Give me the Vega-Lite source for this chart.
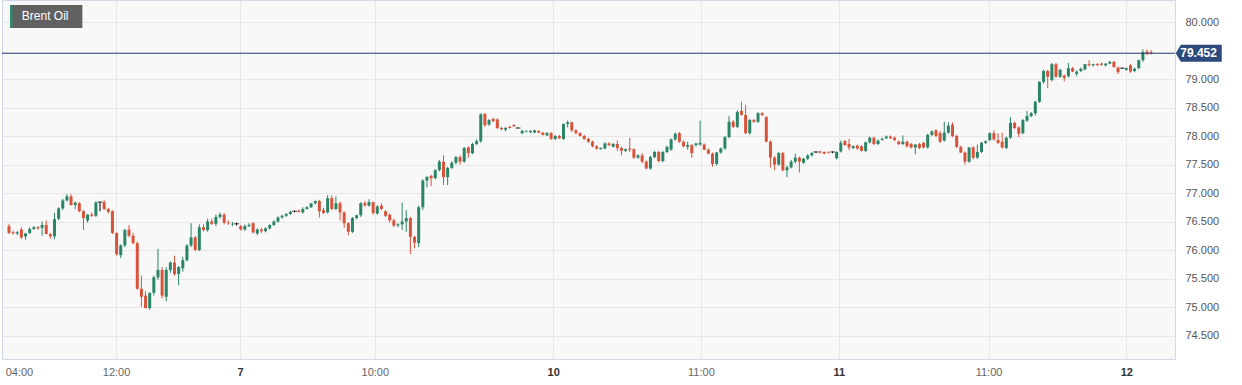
{
  "$schema": "https://vega.github.io/schema/vega-lite/v6.json",
  "width": 1173,
  "height": 359,
  "autosize": {"type": "none"},
  "padding": {"left": 2, "top": 0, "right": 67, "bottom": 26},
  "background": "#ffffff",
  "config": {
    "view": {"fill": "#f8f8f8", "stroke": "#d3d8e8"},
    "font": "Liberation Sans"
  },
  "datasets": {
    "candles": [
      {"i":0,"o":76.42,"h":76.46,"l":76.28,"c":76.30},
      {"i":1,"o":76.31,"h":76.34,"l":76.27,"c":76.29},
      {"i":2,"o":76.29,"h":76.33,"l":76.26,"c":76.31},
      {"i":3,"o":76.36,"h":76.40,"l":76.19,"c":76.22},
      {"i":4,"o":76.24,"h":76.30,"l":76.18,"c":76.29},
      {"i":5,"o":76.30,"h":76.40,"l":76.28,"c":76.37},
      {"i":6,"o":76.37,"h":76.42,"l":76.35,"c":76.40},
      {"i":7,"o":76.40,"h":76.42,"l":76.36,"c":76.38},
      {"i":8,"o":76.39,"h":76.50,"l":76.25,"c":76.44},
      {"i":9,"o":76.44,"h":76.52,"l":76.28,"c":76.28},
      {"i":10,"o":76.28,"h":76.30,"l":76.20,"c":76.24},
      {"i":11,"o":76.24,"h":76.65,"l":76.19,"c":76.54},
      {"i":12,"o":76.55,"h":76.75,"l":76.52,"c":76.73},
      {"i":13,"o":76.73,"h":76.90,"l":76.70,"c":76.87},
      {"i":14,"o":76.87,"h":76.98,"l":76.85,"c":76.94},
      {"i":15,"o":76.94,"h":76.98,"l":76.78,"c":76.79},
      {"i":16,"o":76.79,"h":76.85,"l":76.72,"c":76.83},
      {"i":17,"o":76.82,"h":76.84,"l":76.66,"c":76.68},
      {"i":18,"o":76.68,"h":76.70,"l":76.35,"c":76.56},
      {"i":19,"o":76.52,"h":76.63,"l":76.48,"c":76.62},
      {"i":20,"o":76.62,"h":76.66,"l":76.58,"c":76.60},
      {"i":21,"o":76.60,"h":76.86,"l":76.58,"c":76.83},
      {"i":22,"o":76.84,"h":76.85,"l":76.68,"c":76.84},
      {"i":23,"o":76.84,"h":76.88,"l":76.70,"c":76.72},
      {"i":24,"o":76.72,"h":76.74,"l":76.64,"c":76.67},
      {"i":25,"o":76.68,"h":76.70,"l":76.28,"c":76.30},
      {"i":26,"o":76.30,"h":76.31,"l":75.90,"c":75.93},
      {"i":27,"o":75.91,"h":76.10,"l":75.86,"c":76.08},
      {"i":28,"o":76.08,"h":76.37,"l":76.05,"c":76.35},
      {"i":29,"o":76.36,"h":76.44,"l":76.22,"c":76.25},
      {"i":30,"o":76.25,"h":76.30,"l":76.10,"c":76.12},
      {"i":31,"o":76.12,"h":76.15,"l":75.30,"c":75.32},
      {"i":32,"o":75.32,"h":75.55,"l":75.00,"c":75.18},
      {"i":33,"o":75.20,"h":75.28,"l":74.98,"c":74.98},
      {"i":34,"o":74.98,"h":75.25,"l":74.95,"c":75.25},
      {"i":35,"o":75.25,"h":75.55,"l":75.20,"c":75.52},
      {"i":36,"o":75.52,"h":76.02,"l":75.48,"c":75.65},
      {"i":37,"o":75.65,"h":75.70,"l":75.15,"c":75.20},
      {"i":38,"o":75.18,"h":75.70,"l":75.10,"c":75.65},
      {"i":39,"o":75.65,"h":75.80,"l":75.60,"c":75.78},
      {"i":40,"o":75.78,"h":75.90,"l":75.55,"c":75.58},
      {"i":41,"o":75.58,"h":75.72,"l":75.38,"c":75.70},
      {"i":42,"o":75.68,"h":75.88,"l":75.62,"c":75.82},
      {"i":43,"o":75.82,"h":76.10,"l":75.80,"c":76.08},
      {"i":44,"o":76.08,"h":76.47,"l":76.05,"c":76.22},
      {"i":45,"o":76.22,"h":76.25,"l":75.98,"c":76.00},
      {"i":46,"o":76.00,"h":76.45,"l":75.98,"c":76.40},
      {"i":47,"o":76.40,"h":76.45,"l":76.33,"c":76.35},
      {"i":48,"o":76.35,"h":76.55,"l":76.32,"c":76.50},
      {"i":49,"o":76.50,"h":76.55,"l":76.44,"c":76.46},
      {"i":50,"o":76.46,"h":76.62,"l":76.42,"c":76.58},
      {"i":51,"o":76.58,"h":76.66,"l":76.55,"c":76.62},
      {"i":52,"o":76.62,"h":76.65,"l":76.45,"c":76.48},
      {"i":53,"o":76.48,"h":76.52,"l":76.44,"c":76.47},
      {"i":54,"o":76.45,"h":76.49,"l":76.42,"c":76.46},
      {"i":55,"o":76.46,"h":76.48,"l":76.43,"c":76.46},
      {"i":56,"o":76.42,"h":76.44,"l":76.34,"c":76.36},
      {"i":57,"o":76.36,"h":76.45,"l":76.34,"c":76.42},
      {"i":58,"o":76.42,"h":76.47,"l":76.40,"c":76.44},
      {"i":59,"o":76.47,"h":76.49,"l":76.29,"c":76.31},
      {"i":60,"o":76.29,"h":76.38,"l":76.26,"c":76.36},
      {"i":61,"o":76.36,"h":76.39,"l":76.30,"c":76.33},
      {"i":62,"o":76.33,"h":76.40,"l":76.31,"c":76.38},
      {"i":63,"o":76.38,"h":76.45,"l":76.36,"c":76.44},
      {"i":64,"o":76.44,"h":76.52,"l":76.42,"c":76.50},
      {"i":65,"o":76.50,"h":76.59,"l":76.48,"c":76.57},
      {"i":66,"o":76.57,"h":76.62,"l":76.55,"c":76.60},
      {"i":67,"o":76.60,"h":76.65,"l":76.58,"c":76.63},
      {"i":68,"o":76.63,"h":76.69,"l":76.62,"c":76.67},
      {"i":69,"o":76.68,"h":76.69,"l":76.66,"c":76.68},
      {"i":70,"o":76.69,"h":76.71,"l":76.66,"c":76.67},
      {"i":71,"o":76.66,"h":76.75,"l":76.64,"c":76.72},
      {"i":72,"o":76.72,"h":76.77,"l":76.71,"c":76.75},
      {"i":73,"o":76.75,"h":76.82,"l":76.74,"c":76.82},
      {"i":74,"o":76.82,"h":76.87,"l":76.80,"c":76.86},
      {"i":75,"o":76.86,"h":76.88,"l":76.57,"c":76.68},
      {"i":76,"o":76.70,"h":76.74,"l":76.63,"c":76.65},
      {"i":77,"o":76.66,"h":76.96,"l":76.64,"c":76.91},
      {"i":78,"o":76.91,"h":76.96,"l":76.70,"c":76.72},
      {"i":79,"o":76.72,"h":76.94,"l":76.70,"c":76.82},
      {"i":80,"o":76.82,"h":76.85,"l":76.52,"c":76.66},
      {"i":81,"o":76.66,"h":76.68,"l":76.39,"c":76.47},
      {"i":82,"o":76.47,"h":76.49,"l":76.26,"c":76.32},
      {"i":83,"o":76.32,"h":76.58,"l":76.30,"c":76.56},
      {"i":84,"o":76.56,"h":76.62,"l":76.54,"c":76.61},
      {"i":85,"o":76.61,"h":76.84,"l":76.58,"c":76.82},
      {"i":86,"o":76.82,"h":76.86,"l":76.76,"c":76.78},
      {"i":87,"o":76.78,"h":76.89,"l":76.76,"c":76.84},
      {"i":88,"o":76.84,"h":76.85,"l":76.62,"c":76.65},
      {"i":89,"o":76.64,"h":76.79,"l":76.62,"c":76.76},
      {"i":90,"o":76.78,"h":76.82,"l":76.70,"c":76.72},
      {"i":91,"o":76.68,"h":76.70,"l":76.58,"c":76.60},
      {"i":92,"o":76.62,"h":76.64,"l":76.48,"c":76.52},
      {"i":93,"o":76.52,"h":76.55,"l":76.40,"c":76.43},
      {"i":94,"o":76.43,"h":76.47,"l":76.40,"c":76.45},
      {"i":95,"o":76.45,"h":76.83,"l":76.35,"c":76.50},
      {"i":96,"o":76.50,"h":76.70,"l":76.32,"c":76.56},
      {"i":97,"o":76.56,"h":76.58,"l":75.93,"c":76.23},
      {"i":98,"o":76.23,"h":76.25,"l":76.03,"c":76.13},
      {"i":99,"o":76.12,"h":76.78,"l":76.05,"c":76.75},
      {"i":100,"o":76.75,"h":77.24,"l":76.70,"c":77.22},
      {"i":101,"o":77.22,"h":77.30,"l":77.10,"c":77.28},
      {"i":102,"o":77.30,"h":77.32,"l":77.12,"c":77.26},
      {"i":103,"o":77.26,"h":77.42,"l":77.24,"c":77.40},
      {"i":104,"o":77.40,"h":77.58,"l":77.38,"c":77.55},
      {"i":105,"o":77.55,"h":77.66,"l":77.14,"c":77.28},
      {"i":106,"o":77.28,"h":77.46,"l":77.14,"c":77.44},
      {"i":107,"o":77.44,"h":77.56,"l":77.42,"c":77.53},
      {"i":108,"o":77.53,"h":77.65,"l":77.50,"c":77.63},
      {"i":109,"o":77.63,"h":77.66,"l":77.50,"c":77.55},
      {"i":110,"o":77.55,"h":77.81,"l":77.53,"c":77.79},
      {"i":111,"o":77.80,"h":77.82,"l":77.62,"c":77.70},
      {"i":112,"o":77.70,"h":77.88,"l":77.68,"c":77.86},
      {"i":113,"o":77.86,"h":77.94,"l":77.84,"c":77.91},
      {"i":114,"o":77.91,"h":78.40,"l":77.88,"c":78.38},
      {"i":115,"o":78.39,"h":78.40,"l":78.16,"c":78.19},
      {"i":116,"o":78.20,"h":78.30,"l":78.18,"c":78.28},
      {"i":117,"o":78.30,"h":78.32,"l":78.24,"c":78.26},
      {"i":118,"o":78.29,"h":78.31,"l":78.12,"c":78.14},
      {"i":119,"o":78.14,"h":78.16,"l":78.10,"c":78.12},
      {"i":120,"o":78.11,"h":78.16,"l":78.08,"c":78.14},
      {"i":121,"o":78.16,"h":78.18,"l":78.13,"c":78.14},
      {"i":122,"o":78.19,"h":78.21,"l":78.16,"c":78.17},
      {"i":123,"o":78.14,"h":78.15,"l":78.13,"c":78.14},
      {"i":124,"o":78.05,"h":78.11,"l":78.03,"c":78.09},
      {"i":125,"o":78.08,"h":78.10,"l":78.06,"c":78.09},
      {"i":126,"o":78.07,"h":78.10,"l":78.05,"c":78.09},
      {"i":127,"o":78.06,"h":78.11,"l":78.05,"c":78.10},
      {"i":128,"o":78.09,"h":78.10,"l":78.05,"c":78.06},
      {"i":129,"o":78.06,"h":78.07,"l":78.01,"c":78.02},
      {"i":130,"o":78.01,"h":78.07,"l":78.00,"c":78.05},
      {"i":131,"o":78.05,"h":78.07,"l":77.93,"c":77.95},
      {"i":132,"o":77.95,"h":78.02,"l":77.93,"c":78.00},
      {"i":133,"o":78.00,"h":78.02,"l":77.95,"c":77.96},
      {"i":134,"o":77.95,"h":78.22,"l":77.93,"c":78.21},
      {"i":135,"o":78.21,"h":78.27,"l":78.15,"c":78.24},
      {"i":136,"o":78.24,"h":78.25,"l":78.07,"c":78.10},
      {"i":137,"o":78.10,"h":78.12,"l":78.03,"c":78.05},
      {"i":138,"o":78.05,"h":78.07,"l":77.99,"c":78.00},
      {"i":139,"o":78.00,"h":78.02,"l":77.93,"c":77.95},
      {"i":140,"o":77.95,"h":77.97,"l":77.88,"c":77.90},
      {"i":141,"o":77.90,"h":77.92,"l":77.80,"c":77.82},
      {"i":142,"o":77.82,"h":77.84,"l":77.76,"c":77.78},
      {"i":143,"o":77.77,"h":77.80,"l":77.76,"c":77.79},
      {"i":144,"o":77.78,"h":77.89,"l":77.77,"c":77.87},
      {"i":145,"o":77.87,"h":77.89,"l":77.82,"c":77.84},
      {"i":146,"o":77.81,"h":77.88,"l":77.80,"c":77.86},
      {"i":147,"o":77.86,"h":77.92,"l":77.74,"c":77.79},
      {"i":148,"o":77.79,"h":77.81,"l":77.66,"c":77.74},
      {"i":149,"o":77.74,"h":77.78,"l":77.72,"c":77.77},
      {"i":150,"o":77.78,"h":77.97,"l":77.72,"c":77.76},
      {"i":151,"o":77.77,"h":77.78,"l":77.60,"c":77.62},
      {"i":152,"o":77.62,"h":77.68,"l":77.60,"c":77.66},
      {"i":153,"o":77.66,"h":77.70,"l":77.52,"c":77.55},
      {"i":154,"o":77.55,"h":77.57,"l":77.42,"c":77.43},
      {"i":155,"o":77.43,"h":77.65,"l":77.41,"c":77.63},
      {"i":156,"o":77.63,"h":77.74,"l":77.61,"c":77.72},
      {"i":157,"o":77.72,"h":77.74,"l":77.54,"c":77.56},
      {"i":158,"o":77.56,"h":77.74,"l":77.54,"c":77.72},
      {"i":159,"o":77.72,"h":77.83,"l":77.70,"c":77.81},
      {"i":160,"o":77.76,"h":77.96,"l":77.74,"c":77.94},
      {"i":161,"o":77.94,"h":78.06,"l":77.92,"c":78.04},
      {"i":162,"o":78.05,"h":78.07,"l":77.88,"c":77.90},
      {"i":163,"o":77.90,"h":77.92,"l":77.80,"c":77.82},
      {"i":164,"o":77.81,"h":77.90,"l":77.76,"c":77.84},
      {"i":165,"o":77.84,"h":77.86,"l":77.62,"c":77.70},
      {"i":166,"o":77.84,"h":77.88,"l":77.82,"c":77.87},
      {"i":167,"o":77.85,"h":78.27,"l":77.83,"c":77.88},
      {"i":168,"o":77.85,"h":77.87,"l":77.75,"c":77.76},
      {"i":169,"o":77.76,"h":77.78,"l":77.68,"c":77.69},
      {"i":170,"o":77.69,"h":77.71,"l":77.46,"c":77.51},
      {"i":171,"o":77.51,"h":77.72,"l":77.48,"c":77.71},
      {"i":172,"o":77.71,"h":77.80,"l":77.69,"c":77.78},
      {"i":173,"o":77.78,"h":78.00,"l":77.76,"c":77.98},
      {"i":174,"o":77.98,"h":78.35,"l":77.96,"c":78.25},
      {"i":175,"o":78.25,"h":78.28,"l":78.14,"c":78.16},
      {"i":176,"o":78.16,"h":78.45,"l":78.14,"c":78.42},
      {"i":177,"o":78.44,"h":78.60,"l":78.36,"c":78.37},
      {"i":178,"o":78.37,"h":78.54,"l":78.03,"c":78.05},
      {"i":179,"o":78.05,"h":78.30,"l":78.02,"c":78.28},
      {"i":180,"o":78.28,"h":78.30,"l":78.23,"c":78.25},
      {"i":181,"o":78.25,"h":78.42,"l":78.23,"c":78.40},
      {"i":182,"o":78.40,"h":78.42,"l":78.35,"c":78.37},
      {"i":183,"o":78.33,"h":78.35,"l":77.89,"c":77.90},
      {"i":184,"o":77.90,"h":77.92,"l":77.45,"c":77.62},
      {"i":185,"o":77.62,"h":77.65,"l":77.40,"c":77.50},
      {"i":186,"o":77.50,"h":77.72,"l":77.48,"c":77.70},
      {"i":187,"o":77.70,"h":77.72,"l":77.38,"c":77.40},
      {"i":188,"o":77.40,"h":77.48,"l":77.28,"c":77.45},
      {"i":189,"o":77.45,"h":77.58,"l":77.43,"c":77.55},
      {"i":190,"o":77.55,"h":77.69,"l":77.52,"c":77.62},
      {"i":191,"o":77.62,"h":77.64,"l":77.36,"c":77.55},
      {"i":192,"o":77.53,"h":77.62,"l":77.51,"c":77.60},
      {"i":193,"o":77.60,"h":77.68,"l":77.58,"c":77.66},
      {"i":194,"o":77.66,"h":77.72,"l":77.64,"c":77.70},
      {"i":195,"o":77.72,"h":77.73,"l":77.70,"c":77.72},
      {"i":196,"o":77.73,"h":77.74,"l":77.69,"c":77.71},
      {"i":197,"o":77.72,"h":77.73,"l":77.68,"c":77.69},
      {"i":198,"o":77.72,"h":77.73,"l":77.69,"c":77.71},
      {"i":199,"o":77.72,"h":77.73,"l":77.70,"c":77.72},
      {"i":200,"o":77.61,"h":77.73,"l":77.59,"c":77.72},
      {"i":201,"o":77.73,"h":77.92,"l":77.71,"c":77.88},
      {"i":202,"o":77.91,"h":77.93,"l":77.83,"c":77.84},
      {"i":203,"o":77.86,"h":77.95,"l":77.75,"c":77.80},
      {"i":204,"o":77.79,"h":77.84,"l":77.77,"c":77.82},
      {"i":205,"o":77.83,"h":77.85,"l":77.76,"c":77.78},
      {"i":206,"o":77.82,"h":77.84,"l":77.73,"c":77.74},
      {"i":207,"o":77.74,"h":77.90,"l":77.72,"c":77.89},
      {"i":208,"o":77.89,"h":77.99,"l":77.87,"c":77.97},
      {"i":209,"o":77.97,"h":77.99,"l":77.84,"c":77.86},
      {"i":210,"o":77.86,"h":77.94,"l":77.84,"c":77.92},
      {"i":211,"o":77.93,"h":77.97,"l":77.92,"c":77.95},
      {"i":212,"o":77.96,"h":78.01,"l":77.95,"c":77.99},
      {"i":213,"o":77.99,"h":78.01,"l":77.95,"c":77.96},
      {"i":214,"o":77.97,"h":77.99,"l":77.91,"c":77.93},
      {"i":215,"o":77.90,"h":77.92,"l":77.84,"c":77.86},
      {"i":216,"o":77.86,"h":78.01,"l":77.84,"c":77.90},
      {"i":217,"o":77.90,"h":77.92,"l":77.80,"c":77.82},
      {"i":218,"o":77.86,"h":77.88,"l":77.78,"c":77.80},
      {"i":219,"o":77.80,"h":77.86,"l":77.68,"c":77.85},
      {"i":220,"o":77.86,"h":77.88,"l":77.77,"c":77.79},
      {"i":221,"o":77.88,"h":77.90,"l":77.78,"c":77.80},
      {"i":222,"o":77.80,"h":78.04,"l":77.78,"c":78.02},
      {"i":223,"o":78.02,"h":78.10,"l":78.00,"c":78.08},
      {"i":224,"o":78.10,"h":78.12,"l":77.98,"c":78.00},
      {"i":225,"o":78.05,"h":78.09,"l":77.88,"c":77.90},
      {"i":226,"o":77.92,"h":78.25,"l":77.90,"c":78.06},
      {"i":227,"o":78.06,"h":78.24,"l":78.04,"c":78.18},
      {"i":228,"o":78.20,"h":78.24,"l":77.98,"c":78.00},
      {"i":229,"o":78.00,"h":78.02,"l":77.79,"c":77.81},
      {"i":230,"o":77.81,"h":77.83,"l":77.70,"c":77.71},
      {"i":231,"o":77.71,"h":77.73,"l":77.50,"c":77.55},
      {"i":232,"o":77.55,"h":77.80,"l":77.53,"c":77.80},
      {"i":233,"o":77.80,"h":77.82,"l":77.59,"c":77.62},
      {"i":234,"o":77.62,"h":77.85,"l":77.60,"c":77.72},
      {"i":235,"o":77.72,"h":77.90,"l":77.70,"c":77.88},
      {"i":236,"o":77.88,"h":77.92,"l":77.86,"c":77.91},
      {"i":237,"o":77.93,"h":78.06,"l":77.91,"c":78.05},
      {"i":238,"o":78.05,"h":78.10,"l":77.92,"c":77.94},
      {"i":239,"o":77.93,"h":78.05,"l":77.86,"c":77.88},
      {"i":240,"o":77.90,"h":78.06,"l":77.78,"c":77.80},
      {"i":241,"o":77.79,"h":77.99,"l":77.77,"c":77.97},
      {"i":242,"o":77.97,"h":78.33,"l":77.95,"c":78.23},
      {"i":243,"o":78.23,"h":78.25,"l":78.12,"c":78.14},
      {"i":244,"o":78.15,"h":78.17,"l":77.98,"c":78.04},
      {"i":245,"o":78.05,"h":78.30,"l":78.03,"c":78.28},
      {"i":246,"o":78.27,"h":78.44,"l":78.25,"c":78.35},
      {"i":247,"o":78.35,"h":78.42,"l":78.33,"c":78.40},
      {"i":248,"o":78.40,"h":78.62,"l":78.36,"c":78.60},
      {"i":249,"o":78.60,"h":78.96,"l":78.58,"c":78.95},
      {"i":250,"o":78.95,"h":79.16,"l":78.92,"c":79.14},
      {"i":251,"o":79.14,"h":79.16,"l":78.84,"c":79.04},
      {"i":252,"o":78.98,"h":79.28,"l":78.96,"c":79.26},
      {"i":253,"o":79.26,"h":79.28,"l":79.02,"c":79.04},
      {"i":254,"o":79.04,"h":79.18,"l":79.02,"c":79.16},
      {"i":255,"o":79.06,"h":79.08,"l":78.96,"c":79.02},
      {"i":256,"o":79.05,"h":79.28,"l":79.03,"c":79.19},
      {"i":257,"o":79.19,"h":79.21,"l":79.12,"c":79.13},
      {"i":258,"o":79.09,"h":79.15,"l":79.05,"c":79.13},
      {"i":259,"o":79.14,"h":79.20,"l":79.12,"c":79.18},
      {"i":260,"o":79.17,"h":79.26,"l":79.15,"c":79.26},
      {"i":261,"o":79.26,"h":79.33,"l":79.22,"c":79.24},
      {"i":262,"o":79.24,"h":79.27,"l":79.22,"c":79.26},
      {"i":263,"o":79.26,"h":79.28,"l":79.23,"c":79.24},
      {"i":264,"o":79.27,"h":79.29,"l":79.23,"c":79.25},
      {"i":265,"o":79.24,"h":79.28,"l":79.22,"c":79.27},
      {"i":266,"o":79.27,"h":79.32,"l":79.26,"c":79.30},
      {"i":267,"o":79.30,"h":79.32,"l":79.20,"c":79.21},
      {"i":268,"o":79.20,"h":79.22,"l":79.09,"c":79.12},
      {"i":269,"o":79.19,"h":79.20,"l":79.18,"c":79.19},
      {"i":270,"o":79.16,"h":79.20,"l":79.15,"c":79.19},
      {"i":271,"o":79.24,"h":79.26,"l":79.11,"c":79.13},
      {"i":272,"o":79.14,"h":79.20,"l":79.12,"c":79.18},
      {"i":273,"o":79.19,"h":79.34,"l":79.17,"c":79.33},
      {"i":274,"o":79.33,"h":79.52,"l":79.30,"c":79.47},
      {"i":275,"o":79.48,"h":79.52,"l":79.42,"c":79.44},
      {"i":276,"o":79.47,"h":79.51,"l":79.43,"c":79.452}
    ],
    "last": [{"p": 79.452}],
    "name": [{"name": "Brent Oil"}]
  },
  "layer": [
    {
      "data": {"name": "candles"},
      "mark": {"type": "rule", "strokeWidth": 1},
      "encoding": {
        "x": {
          "field": "i", "type": "quantitative", "title": null,
          "scale": {"domain": [-0.479, 280.55], "nice": false, "zero": false},
          "axis": {
            "values": [2.4, 25.87, 55.82, 88.4, 131.5, 167.2, 200.5, 236.7, 270],
            "tickCount": 40,
            "labelExpr": "datum.value < 10 ? '04:00' : datum.value < 30 ? '12:00' : datum.value < 60 ? '7' : datum.value < 100 ? '10:00' : datum.value < 140 ? '10' : datum.value < 180 ? '11:00' : datum.value < 210 ? '11' : datum.value < 250 ? '11:00' : '12'",
            "title": null,
            "domain": false,
            "ticks": false,
            "labelPadding": 7,
            "labelFontSize": 11,
            "labelFont": "Liberation Sans",
            "labelFlush": false,
            "labelOverlap": false,
            "labelColor": {"condition": {"test": "datum.value == 55.82 || datum.value == 131.5 || datum.value == 200.5 || datum.value == 270", "value": "#333333"}, "value": "#666666"},
            "labelFontWeight": {"condition": {"test": "datum.value == 55.82 || datum.value == 131.5 || datum.value == 200.5 || datum.value == 270", "value": "bold"}, "value": "normal"},
            "grid": true,
            "gridColor": "#e6e6e6",
            "gridOpacity": {"condition": {"test": "datum.value < 10", "value": 0}, "value": 1}
          }
        },
        "y": {
          "field": "l", "type": "quantitative", "title": null,
          "scale": {"domain": [74.088, 80.386], "nice": false, "zero": false},
          "axis": {
            "orient": "right",
            "values": [74.5, 75, 75.5, 76, 76.5, 77, 77.5, 78, 78.5, 79, 80],
            "tickCount": 40,
            "format": ".3f",
            "title": null,
            "domain": false,
            "ticks": false,
            "labelPadding": 10,
            "labelFontSize": 11,
            "labelFont": "Liberation Sans",
            "labelColor": "#555555",
            "labelOverlap": false,
            "labelFlush": false,
            "grid": true,
            "gridColor": "#e6e6e6"
          }
        },
        "y2": {"field": "h"},
        "color": {
          "condition": [
            {"test": "datum.c > datum.o", "value": "#2a8567"},
            {"test": "datum.c < datum.o", "value": "#d9533b"}
          ],
          "value": "#000000"
        }
      }
    },
    {
      "data": {"name": "candles"},
      "mark": {"type": "bar", "size": 3},
      "encoding": {
        "x": {"field": "i", "type": "quantitative", "title": null},
        "y": {"field": "o", "type": "quantitative", "title": null},
        "y2": {"field": "c"},
        "color": {
          "condition": [
            {"test": "datum.c > datum.o", "value": "#2a8567"},
            {"test": "datum.c < datum.o", "value": "#d9533b"}
          ],
          "value": "#000000"
        }
      }
    },
    {
      "data": {"name": "candles"},
      "transform": [{"filter": "datum.o == datum.c"}],
      "mark": {"type": "tick", "orient": "horizontal", "size": 5, "thickness": 1, "color": "#000000"},
      "encoding": {
        "x": {"field": "i", "type": "quantitative", "title": null},
        "y": {"field": "o", "type": "quantitative", "title": null}
      }
    },
    {
      "data": {"name": "last"},
      "mark": {"type": "rule", "color": "#1f3d6d", "strokeWidth": 1},
      "encoding": {
        "y": {"field": "p", "type": "quantitative", "title": null}
      }
    },
    {
      "data": {"name": "name"},
      "mark": {"type": "rect", "fill": "#616161"},
      "encoding": {
        "x": {"datum": 0.24, "type": "quantitative", "title": null},
        "x2": {"datum": 17.73},
        "y": {"datum": 80.298, "type": "quantitative", "title": null},
        "y2": {"datum": 79.895}
      }
    },
    {
      "data": {"name": "name"},
      "mark": {"type": "rect", "fill": "#2e8b6f"},
      "encoding": {
        "x": {"datum": 0.24, "type": "quantitative", "title": null},
        "x2": {"datum": 0.84},
        "y": {"datum": 80.298, "type": "quantitative", "title": null},
        "y2": {"datum": 79.895}
      }
    },
    {
      "data": {"name": "name"},
      "mark": {"type": "text", "color": "#ffffff", "fontSize": 12, "align": "left", "baseline": "middle", "font": "Liberation Sans"},
      "encoding": {
        "x": {"datum": 3.11, "type": "quantitative", "title": null},
        "y": {"datum": 80.097, "type": "quantitative", "title": null},
        "text": {"field": "name"}
      }
    },
    {
      "data": {"name": "last"},
      "mark": {"type": "point", "filled": true, "fill": "#2c4a7c", "opacity": 1, "strokeWidth": 0, "size": 2116, "shape": "M -1 0 L -0.78 -0.37 L 1 -0.37 L 1 0.37 L -0.78 0.37 Z"},
      "encoding": {
        "x": {"datum": 287.5, "type": "quantitative", "title": null},
        "y": {"field": "p", "type": "quantitative", "title": null}
      }
    },
    {
      "data": {"name": "last"},
      "mark": {"type": "text", "color": "#ffffff", "fontSize": 12, "fontWeight": "bold", "align": "center", "baseline": "middle", "font": "Liberation Sans"},
      "encoding": {
        "x": {"datum": 287.45, "type": "quantitative", "title": null},
        "y": {"field": "p", "type": "quantitative", "title": null},
        "text": {"field": "p", "type": "quantitative", "format": ".3f"}
      }
    }
  ]
}
